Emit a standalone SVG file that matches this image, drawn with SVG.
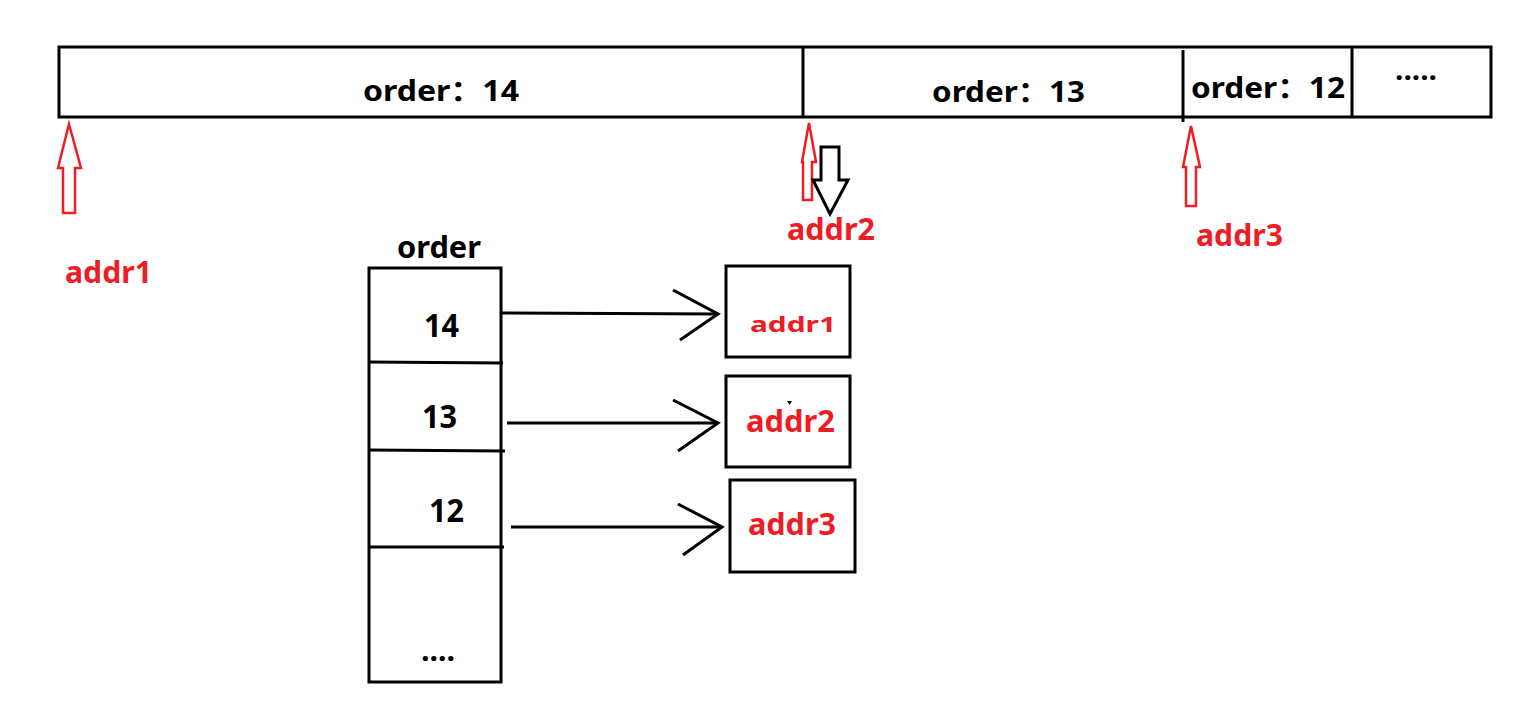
<svg xmlns="http://www.w3.org/2000/svg" width="1539" height="709" viewBox="0 0 1539 709">
<style>
.ln{stroke:#000;stroke-width:3;fill:none}
.box{stroke:#000;stroke-width:3;fill:#fff}
.t{font-family:"Noto Sans","Noto Sans CJK SC",sans-serif;font-weight:bold;fill:#000}
.r{font-family:"Noto Sans","Noto Sans CJK SC",sans-serif;font-weight:bold;fill:#ee1c25}
.ra{fill:#fff;stroke:#ee1c25;stroke-width:2.5;stroke-linejoin:miter}
.ba{fill:#fff;stroke:#000;stroke-width:3}
</style>
<rect width="1539" height="709" fill="#fff"/>
<g id="memory-bar">
<rect class="box" x="59" y="47" width="1432" height="70"/>
<line class="ln" x1="803" y1="47" x2="803" y2="117"/>
<line class="ln" x1="1183" y1="50" x2="1183" y2="122"/>
<line class="ln" x1="1352" y1="47" x2="1352" y2="117"/>
<text class="t" x="363" y="101" font-size="28" textLength="156" lengthAdjust="spacingAndGlyphs">order：14</text>
<text class="t" x="932" y="102" font-size="28" textLength="153" lengthAdjust="spacingAndGlyphs">order：13</text>
<text class="t" x="1191" y="98" font-size="28" textLength="154" lengthAdjust="spacingAndGlyphs">order：12</text>
<text class="t" x="1395" y="88" font-size="28" textLength="42" lengthAdjust="spacingAndGlyphs">·····</text>
</g>
<g id="pointer-addr1">
<polygon class="ra" points="69,124 81,168 75,168 75,213 63,213 63,168 58,168"/>
<text class="r" x="65" y="283" font-size="30" textLength="87" lengthAdjust="spacingAndGlyphs">addr1</text>
</g>
<g id="pointer-addr2">
<polygon class="ra" points="809,123 816,162 812,162 812,200 803,200 803,162 802,162"/>
<polygon class="ba" points="821,147 839,147 839,180 848,180 830,214 813,180 821,180"/>
<text class="r" x="787" y="240" font-size="30" textLength="88" lengthAdjust="spacingAndGlyphs">addr2</text>
</g>
<g id="pointer-addr3">
<polygon class="ra" points="1191,126 1200,167 1196,167 1196,206 1186,206 1186,167 1183,167"/>
<text class="r" x="1196" y="246" font-size="30" textLength="87" lengthAdjust="spacingAndGlyphs">addr3</text>
</g>
<g id="order-table">
<text class="t" x="397" y="258" font-size="30" textLength="84" lengthAdjust="spacingAndGlyphs">order</text>
<rect class="box" x="369" y="268" width="132" height="414"/>
<line class="ln" x1="369" y1="362" x2="503" y2="363"/>
<line class="ln" x1="369" y1="450" x2="505" y2="451"/>
<line class="ln" x1="369" y1="547" x2="504" y2="547"/>
<text class="t" x="424" y="337" font-size="32" textLength="35" lengthAdjust="spacingAndGlyphs">14</text>
<text class="t" x="422" y="428" font-size="32" textLength="35" lengthAdjust="spacingAndGlyphs">13</text>
<text class="t" x="429" y="522" font-size="32" textLength="35" lengthAdjust="spacingAndGlyphs">12</text>
<text class="t" x="421" y="661" font-size="30" textLength="34" lengthAdjust="spacingAndGlyphs">....</text>
</g>
<g id="box-addr1">
<rect class="box" x="726" y="266" width="124" height="91"/>
<text class="r" x="750" y="332" font-size="21" textLength="86" lengthAdjust="spacingAndGlyphs">addr1</text>
</g>
<g id="box-addr2">
<rect class="box" x="726" y="376" width="124" height="91"/>
<text class="r" x="746" y="432" font-size="31" textLength="89" lengthAdjust="spacingAndGlyphs">addr2</text>
<polygon points="787,401 792,401 789.5,405" fill="#000"/>
</g>
<g id="box-addr3">
<rect class="box" x="730" y="480" width="125" height="92"/>
<text class="r" x="748" y="535" font-size="31" textLength="88" lengthAdjust="spacingAndGlyphs">addr3</text>
</g>
<g id="connectors">
<line class="ln" x1="501" y1="313" x2="718" y2="314"/>
<polyline class="ln" points="673,290 718,314 680,340"/>
<line class="ln" x1="507" y1="423" x2="718" y2="423"/>
<polyline class="ln" points="673,400 718,423 678,451"/>
<line class="ln" x1="511" y1="527" x2="722" y2="527"/>
<polyline class="ln" points="678,504 722,527 683,555"/>
</g>
</svg>
